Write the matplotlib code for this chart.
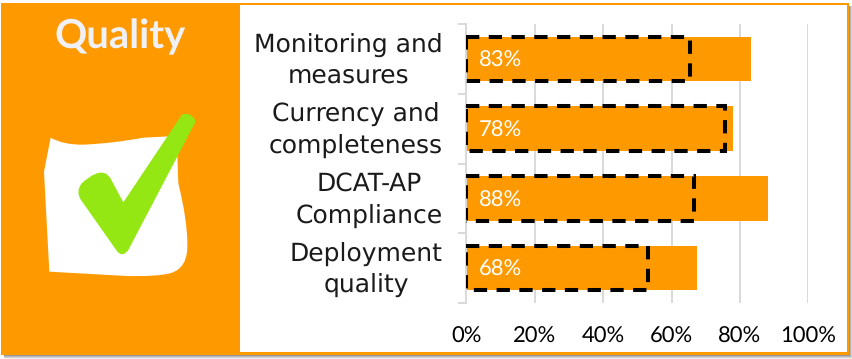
import matplotlib.pyplot as plt
from matplotlib.patches import PathPatch, Rectangle
from matplotlib.path import Path

W, H = 853, 359
ORANGE = "#ff9900"

categories = ["Monitoring and\nmeasures", "Currency and\ncompleteness", "DCAT-AP\nCompliance", "Deployment\nquality"]
scores = [83.2, 78.0, 88.2, 67.5]
targets = [65.4, 75.6, 66.5, 53.1]
score_labels = ["83%", "78%", "88%", "68%"]
x_ticks = [0, 20, 40, 60, 80, 100]
x_tick_labels = ["0%", "20%", "40%", "60%", "80%", "100%"]

plt.rcParams["text.hinting"] = "no_hinting"
plt.rcParams["text.hinting_factor"] = 1


def smooth_path(points: list[tuple]) -> Path:
    """Closed path from zoomed crop coordinates; a flag of 1 marks a curve control."""
    verts = [(x / 3, y / 3) for x, y, _ in points]
    codes = [Path.MOVETO]
    for i in range(1, len(points)):
        in_curve = points[i][2] or points[i - 1][2]
        codes.append(Path.CURVE3 if in_curve else Path.LINETO)
    return Path(verts + [verts[0]], codes + [Path.CLOSEPOLY])


def draw_frame(bg) -> None:
    """Draw the shadow, orange frame, panel and check mark icon."""
    for grow, alpha in zip([4, 3, 2, 1], [0.12, 0.2, 0.3, 0.4]):
        bg.add_patch(Rectangle((4, 6), 845 + grow, 349 + grow, color="#707070", alpha=alpha, lw=0))
    bg.add_patch(Rectangle((1, 3), 848, 352, color=ORANGE, lw=0))
    bg.add_patch(Rectangle((240, 5), 607, 347, color="white", lw=0))

    paper = [
        (152, 413, 0), (190, 435, 1), (250, 434, 0), (340, 430, 1), (430, 413, 0),
        (530, 408, 0), (535, 550, 0), (562, 660, 1), (562, 730, 0), (565, 805, 1),
        (510, 820, 0), (470, 830, 1), (380, 828, 0), (148, 815, 0), (132, 515, 0),
    ]
    bg.add_patch(PathPatch(smooth_path(paper), fc="white", ec="none"))

    check = [
        (370, 607, 0), (525, 375, 0), (545, 345, 0), (560, 335, 1), (578, 350, 0),
        (592, 362, 1), (580, 378, 0), (385, 750, 0), (367, 775, 1), (350, 752, 0),
        (243, 600, 0), (226, 575, 1), (245, 550, 0), (290, 509, 1), (315, 520, 0),
        (327, 525, 1), (333, 538, 0),
    ]
    bg.add_patch(PathPatch(smooth_path(check), fc="#95e714", ec="none"))

    bg.text(120, 37, "Quality", color="#f0f0f5", fontsize=28.5, fontweight="bold",
            family="Lato", ha="center", va="center")


def draw_chart(ax) -> None:
    """Draw the score bars with the dashed target outlines."""
    rows = [i + 0.5 for i in range(len(categories))]
    ax.barh(rows, scores, height=0.64, color=ORANGE, zorder=2)
    ax.barh(rows, targets, height=0.64, fill=False, edgecolor="black", lw=2.9,
            linestyle=(0, (3.3, 2.35)), zorder=3)
    for row, label in zip(rows, score_labels):
        ax.text(3.6, row + 0.025, label, color="white", fontsize=15.5, family="Lato",
                va="center", ha="left", zorder=4)

    ax.set_xlim(0, 100)
    ax.set_ylim(len(categories), 0)
    ax.set_xticks(x_ticks, x_tick_labels, fontsize=16, family="Lato", color="black")
    ax.tick_params(axis="x", length=0, pad=17)
    ax.grid(axis="x", color="#d9d9d9", lw=1.4, zorder=1)
    ax.set_axisbelow(True)

    ax.set_yticks(range(len(categories) + 1), [""] * (len(categories) + 1))
    ax.tick_params(axis="y", which="major", length=6, width=1.4, color="#d9d9d9")
    ax.set_yticks([r + 0.02 for r in rows], categories, minor=True, fontsize=18, family="DejaVu Sans",
                  color="#1a1a1a", multialignment="center", linespacing=1.38, va="center")
    ax.tick_params(axis="y", which="minor", length=0, pad=17)

    for side in ["top", "right", "bottom"]:
        ax.spines[side].set_visible(False)
    ax.spines["left"].set_color("#d9d9d9")
    ax.spines["left"].set_linewidth(1.4)


def main() -> None:
    """Build the figure and save it."""
    fig = plt.figure(figsize=(W / 100, H / 100), dpi=100)
    bg = fig.add_axes([0, 0, 1, 1])
    bg.set_xlim(0, W)
    bg.set_ylim(H, 0)
    bg.axis("off")
    draw_frame(bg)

    ax = fig.add_axes([466.5 / W, 1 - 303 / H, 341.8 / W, 279 / H])
    ax.patch.set_alpha(0)
    draw_chart(ax)

    fig.savefig("out.png", dpi=100)


if __name__ == "__main__":
    main()
